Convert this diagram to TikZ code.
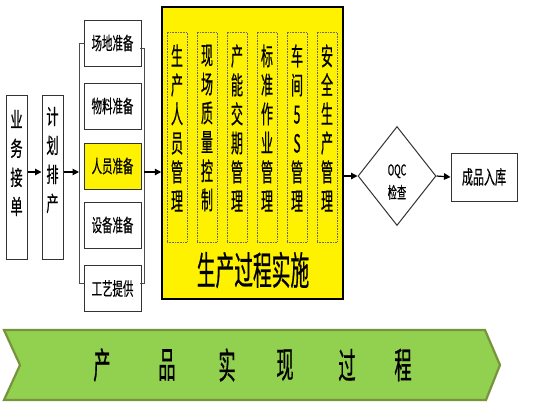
\documentclass[tikz,border=0pt]{standalone}
\usepackage{fontspec}
\newfontfamily\cjk[FakeStretch=0.58,FakeBold=0.5]{Noto Sans CJK SC}
\newfontfamily\cjktall[FakeStretch=0.48,FakeBold=0.5]{Noto Sans CJK SC}
\usetikzlibrary{arrows.meta,shapes.geometric}
\definecolor{bandgreen}{RGB}{146,208,80}
\definecolor{bandedge}{RGB}{119,147,60}

\begin{document}
\begin{tikzpicture}[
  x=1pt,y=-1pt,
  box/.style={rectangle,draw=black!80,line width=1pt,fill=white,inner sep=0pt,align=center},
  vbox/.style={box,minimum width=21pt,minimum height=164pt},
  vtext/.style={align=center,inner sep=0pt,font=\cjk\fontsize{21}{29}\selectfont},
  prep/.style={box,minimum width=57pt,minimum height=46pt,font=\cjk\fontsize{18}{18}\selectfont},
  col/.style={rectangle,draw=black!60,densely dotted,line width=0.6pt,minimum width=20pt,minimum height=210pt,inner sep=0pt},
  coltext/.style={align=center,inner sep=0pt,font=\cjktall\fontsize{25}{29}\selectfont},
  arr/.style={-{Triangle[length=6.5pt,width=6.5pt]},line width=1.2pt,black},
  brace/.style={draw=black!70,line width=0.8pt},
]
\useasboundingbox (0,0) rectangle (548,416);
% order and planning
\node[vbox] (ywjd) at (16.5,177) {};
\node[vtext] (ywjdt) at (16.5,163) {业\\务\\接\\单};
\node[vbox] (jhpc) at (52.5,177) {};
\node[vtext] (jhpct) at (52.5,160) {计\\划\\排\\产};
\draw[arr] ([yshift=5pt]ywjd.east) -- ([yshift=5pt]jhpc.west);
% preparation
\node[prep] (cd) at (112.5,43) {场地准备};
\node[prep] (wl) at (112.5,106) {物料准备};
\node[prep,fill=yellow] (ry) at (112.5,166) {人员准备};
\node[prep] (sb) at (112.5,225) {设备准备};
\node[prep] (gy) at (112.5,288.5) {工艺提供};
\coordinate (brl) at (79,172);
\coordinate (brr) at (144,172);
\draw[brace] (84,43) -- (79,43) -- (79,283) -- (84,283);
\draw[brace] (140,48) -- (144,48) -- (144,283) -- (140,283);
\draw[arr] ([yshift=5pt]jhpc.east) -- (brl);
% production process
\node[rectangle,draw=black,line width=1.5pt,fill=yellow,minimum width=181pt,minimum height=292pt,inner sep=0pt] (sc) at (252.5,153) {};
\draw[arr] (brr) -- (brr -| sc.west);
\node[col] (c1) at (177,137) {};
\node[col] (c2) at (207,137) {};
\node[col] (c3) at (237,137) {};
\node[col] (c4) at (267,137) {};
\node[col] (c5) at (297,137) {};
\node[col] (c6) at (327,137) {};
\node[coltext] (t1) at (177,128) {生\\产\\人\\员\\管\\理};
\node[coltext] (t2) at (207,128) {现\\场\\质\\量\\控\\制};
\node[coltext] (t3) at (237,128) {产\\能\\交\\期\\管\\理};
\node[coltext] (t4) at (267,128) {标\\准\\作\\业\\管\\理};
\node[coltext] (t5) at (297,128) {车\\间\\5\\S\\管\\理};
\node[coltext] (t6) at (327,128) {安\\全\\生\\产\\管\\理};
\node[font=\cjktall\fontsize{39}{40}\selectfont] (sclab) at (253,270) {生产过程实施};
% inspection and storage
\node[diamond,draw=black!80,line width=1pt,fill=white,minimum width=78pt,minimum height=99pt,inner sep=0pt] (oqc) at (397,176) {};
\node[align=center,inner sep=0pt,font=\cjk\fontsize{15}{23}\selectfont] (oqct) at (397,182) {OQC\\{\fontsize{16}{23}\selectfont 检查}};
\node[box,minimum width=66pt,minimum height=48pt,font=\cjk\fontsize{19}{20}\selectfont] (rk) at (484,177) {成品入库};
\draw[arr] (oqc.west -| sc.east) -- (oqc.west);
\draw[arr] (oqc.east) -- (rk.west);
% process band
\draw[fill=bandgreen,draw=bandedge,line width=2.2pt,line join=miter] (4,330) -- (485,330) -- (500,365) -- (486,400) -- (4,400) -- (20,365) -- cycle;
\foreach \ch/\x [count=\i] in {产/102,品/167,实/227,现/285,过/347,程/403}
  \node[font=\cjktall\fontsize{36}{36}\selectfont] (g\i) at (\x,365) {\ch};
\end{tikzpicture}
\end{document}
